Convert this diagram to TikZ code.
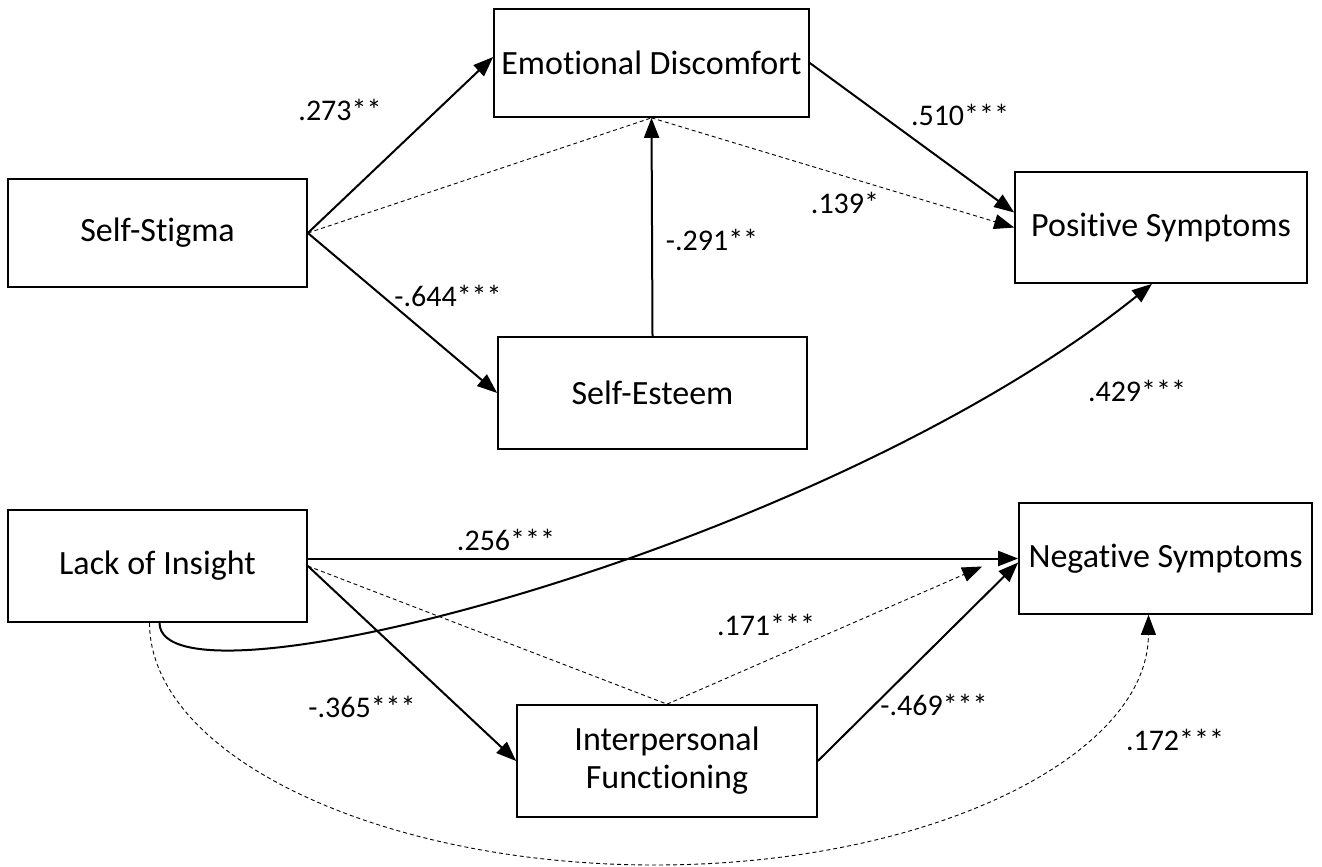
\documentclass[tikz,border=0pt]{standalone}
\usepackage{fontspec}
\setmainfont{Carlito}[Ligatures=NoCommon]
\usetikzlibrary{arrows.meta,positioning,calc}

\tikzset{
  var/.style={draw,line width=1.7pt,inner sep=0pt,align=center,
              font=\fontsize{34}{38}\selectfont},
  coef/.style={font=\fontsize{30}{34}\selectfont},
  tip/.style={-{Triangle[length=20pt,width=15pt]}},
  effect/.style={line width=2pt},
  direct/.style={line width=0.9pt,dash pattern=on 4pt off 3pt}
}

\begin{document}
\begin{tikzpicture}[x=1pt,y=-1pt]
  \useasboundingbox (0,0) rectangle (1322,867);
  % Variables
  \node[var,minimum width=315pt,minimum height=108pt] (emo) at (651.5,63) {Emotional Discomfort};
  \node[var,minimum width=299pt,minimum height=108pt] (stig) at (157.5,233) {Self-Stigma};
  \node[var,minimum width=292pt,minimum height=111pt] (pos) at (1161,227.5) {Positive Symptoms};
  \node[var,minimum width=309pt,minimum height=112pt] (est) at (652.5,393) {Self-Esteem};
  \node[var,minimum width=299pt,minimum height=112pt] (ins) at (157.5,566) {Lack of Insight};
  \node[var,minimum width=293pt,minimum height=111pt] (neg) at (1165.5,558.5) {Negative Symptoms};
  \node[var,minimum width=300pt,minimum height=112pt] (ipf) at (667,761) {Interpersonal\\Functioning};
  % Upper model
  \draw[effect,tip] (stig.east) -- ([yshift=6pt]emo.west);
  \draw[effect,tip] (stig.east) -- (est.west);
  \draw[effect,tip] (est.north) -- (emo.south);
  \draw[effect,tip] (emo.east) -- ([yshift=15pt]pos.west);
  \draw[direct] (stig.east) -- (emo.south);
  \draw[direct,tip] (emo.south) -- (pos.west);
  % Lower model
  \draw[effect,tip] (ins.east |- neg.west) -- (neg.west);
  \draw[effect,tip] (ins.east) -- (ipf.west);
  \draw[effect,tip] (ipf.east) -- ([yshift=-4pt]neg.west);
  \draw[direct] (ins.east) -- (ipf.north);
  \draw[direct,tip] (ipf.north) -- ([xshift=-36pt,yshift=-8pt]neg.west);
  \draw[effect,tip] ([xshift=2pt]ins.south) .. controls (160,720) and (820,550) .. ([xshift=-9pt]pos.south);
  \draw[direct,tip] ([xshift=-8pt]ins.south) .. controls (150,756) and (380,865) .. (655,865)
       .. controls (930,865) and (1148,756) .. ([xshift=-17pt]neg.south);
  % Coefficients
  \node[coef] (c1) at (340,110) {.273**};
  \node[coef] (c2) at (448,296) {-.644***};
  \node[coef] (c3) at (712,240) {-.291**};
  \node[coef] (c4) at (960,115) {.510***};
  \node[coef] (c5) at (845,203) {.139*};
  \node[coef] (c6) at (1137,391) {.429***};
  \node[coef] (c7) at (506,540) {.256***};
  \node[coef] (c8) at (766,625) {.171***};
  \node[coef] (c9) at (362,707) {-.365***};
  \node[coef] (c10) at (934,705) {-.469***};
  \node[coef] (c11) at (1175,740) {.172***};
\end{tikzpicture}
\end{document}
